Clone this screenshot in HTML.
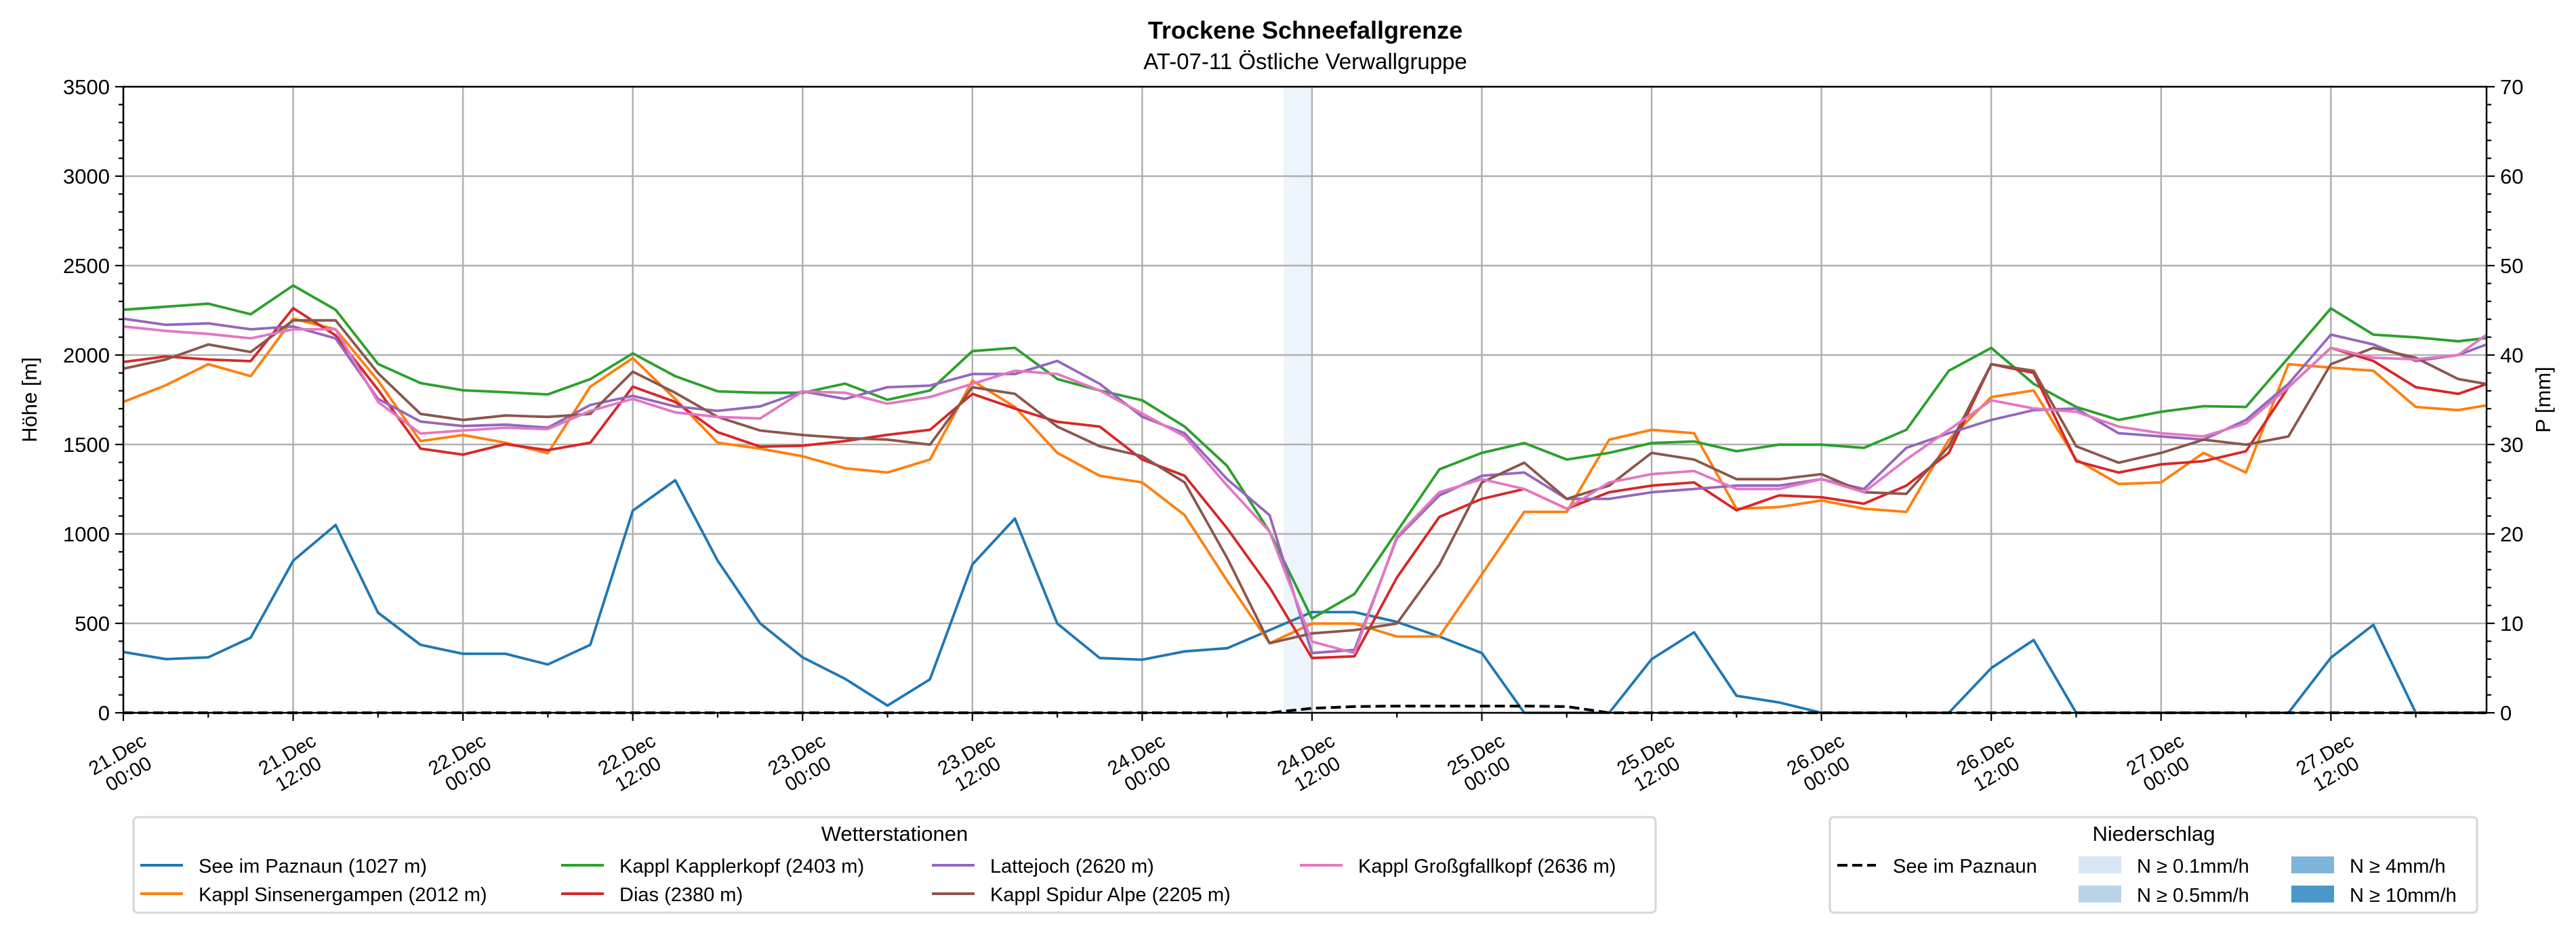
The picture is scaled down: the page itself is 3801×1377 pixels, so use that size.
<!DOCTYPE html>
<html><head><meta charset="utf-8"><title>Trockene Schneefallgrenze</title>
<style>
html,body{margin:0;padding:0;background:#fff;}
svg{display:block;font-family:"Liberation Sans",sans-serif;}
</style></head>
<body>
<svg id="chart" width="3801" height="1377" viewBox="0 0 3801 1377" xmlns="http://www.w3.org/2000/svg">
<rect x="0" y="0" width="3801" height="1377" fill="#fff"/>
<text x="1926" y="57" text-anchor="middle" font-size="36" font-weight="bold">Trockene Schneefallgrenze</text>
<text x="1926" y="102" text-anchor="middle" font-size="33">AT-07-11 Östliche Verwallgruppe</text>
<g id="plot"></g>
<text transform="translate(54,590) rotate(-90)" text-anchor="middle" font-size="31">Höhe [m]</text>
<text transform="translate(3763,590) rotate(-90)" text-anchor="middle" font-size="31">P [mm]</text>

<g>
<rect x="197" y="1206" width="2246" height="141" rx="6" fill="#fff" stroke="#d6d6d6" stroke-width="3"/>
<text x="1320" y="1241" text-anchor="middle" font-size="31">Wetterstationen</text>
<g id="legendEntries"></g>
</g>

<g>
<rect x="2700" y="1206" width="955" height="141" rx="6" fill="#fff" stroke="#d6d6d6" stroke-width="3"/>
<text x="3178" y="1241" text-anchor="middle" font-size="31">Niederschlag</text>
<line x1="2711" y1="1277" x2="2768" y2="1277" stroke="#000" stroke-width="4" stroke-dasharray="15,7"/>
<text x="2793" y="1288" font-size="29">See im Paznaun</text>
<rect x="3067" y="1264" width="63" height="25" fill="#d6e6f4"/>
<text x="3153" y="1288" font-size="29">N ≥ 0.1mm/h</text>
<rect x="3067" y="1307" width="63" height="25" fill="#b7d4ea"/>
<text x="3153" y="1331" font-size="29">N ≥ 0.5mm/h</text>
<rect x="3381" y="1264" width="63" height="25" fill="#7fb5da"/>
<text x="3467" y="1288" font-size="29">N ≥ 4mm/h</text>
<rect x="3381" y="1307" width="63" height="25" fill="#4a98c9"/>
<text x="3467" y="1331" font-size="29">N ≥ 10mm/h</text>
</g>
</svg>
<script>
// ---- data ----
const stationNames = ["See im Paznaun (1027 m)","Kappl Sinsenergampen (2012 m)","Kappl Kapplerkopf (2403 m)","Dias (2380 m)","Lattejoch (2620 m)","Kappl Spidur Alpe (2205 m)","Kappl Großgfallkopf (2636 m)"];
const hours = [0,3,6,9,12,15,18,21,24,27,30,33,36,39,42,45,48,51,54,57,60,63,66,69,72,75,78,81,84,87,90,93,96,99,102,105,108,111,114,117,120,123,126,129,132,135,138,141,144,147,150,153,156,159,162,165,167];
const seeValues = [340,300,310,420,850,1050,560,380,330,330,270,380,1130,1300,850,500,310,190,40,187,829,1086,499,306,297,343,361,462,563,563,508,426,334,0,0,0,300,450,95,58,0,0,0,0,250,407,0,0,0,0,0,0,308,492,0,0,0];
const sinsenValues = [1738,1831,1949,1882,2203,2144,1857,1519,1553,1510,1451,1823,1983,1755,1510,1477,1434,1367,1343,1416,1857,1710,1453,1325,1288,1105,738,389,499,499,426,426,774,1123,1123,1527,1582,1563,1141,1150,1187,1141,1123,1527,1765,1802,1416,1279,1288,1453,1343,1949,1930,1912,1710,1692,1719];
const kapplerValues = [2253,2270,2287,2228,2389,2253,1950,1843,1803,1792,1780,1865,2009,1882,1797,1789,1789,1840,1750,1802,2022,2040,1866,1802,1747,1600,1380,1013,527,664,1013,1361,1453,1508,1416,1453,1508,1517,1462,1499,1499,1481,1582,1912,2040,1839,1710,1637,1683,1714,1710,1985,2261,2114,2099,2077,2095];
const diasValues = [1961,1992,1975,1966,2262,2110,1806,1477,1443,1502,1468,1510,1823,1738,1569,1488,1493,1519,1554,1582,1783,1701,1627,1600,1416,1325,1031,701,306,316,756,1095,1196,1251,1141,1233,1270,1288,1132,1215,1205,1169,1270,1453,1949,1900,1407,1343,1389,1407,1462,1820,2040,1967,1820,1783,1838];
const latteValues = [2203,2169,2177,2144,2160,2093,1755,1628,1603,1611,1594,1721,1772,1713,1688,1713,1797,1755,1820,1829,1894,1894,1967,1839,1655,1563,1306,1105,334,352,976,1215,1325,1343,1196,1196,1233,1251,1270,1270,1306,1251,1481,1563,1637,1692,1701,1563,1545,1527,1637,1839,2114,2059,1967,2000,2059];
const spidurValues = [1924,1975,2059,2017,2194,2194,1899,1671,1637,1662,1654,1671,1907,1789,1654,1578,1553,1536,1527,1499,1820,1783,1600,1490,1435,1288,866,389,444,462,499,829,1288,1398,1196,1270,1453,1416,1306,1306,1334,1233,1224,1490,1949,1912,1490,1398,1453,1527,1499,1545,1949,2040,1985,1866,1838];
const grossValues = [2160,2135,2118,2093,2144,2144,1738,1561,1578,1594,1586,1688,1755,1679,1654,1645,1797,1789,1728,1765,1839,1912,1894,1802,1673,1545,1270,1013,398,334,985,1233,1306,1251,1141,1288,1334,1352,1251,1251,1306,1233,1416,1582,1747,1701,1683,1600,1563,1545,1618,1820,2040,1985,1976,2000,2114];
const precipValues = [0,0,0,0,0,0,0,0,0,0,0,0,0,0,0,0,0,0,0,0,0,0,0,0,0,0,0,0,0.5,0.7,0.75,0.75,0.75,0.75,0.7,0,0,0,0,0,0,0,0,0,0,0,0,0,0,0,0,0,0,0,0,0,0];
const shadeStart = [82];
const shadeEnd = [84];
const yTicks = [0,500,1000,1500,2000,2500,3000,3500];
const y2Ticks = [0,10,20,30,40,50,60,70];
const xTickHours = [0,12,24,36,48,60,72,84,96,108,120,132,144,156];
const xTickDates = ["21.Dec","21.Dec","22.Dec","22.Dec","23.Dec","23.Dec","24.Dec","24.Dec","25.Dec","25.Dec","26.Dec","26.Dec","27.Dec","27.Dec"];
const xTickTimes = ["00:00","12:00","00:00","12:00","00:00","12:00","00:00","12:00","00:00","12:00","00:00","12:00","00:00","12:00"];

// ---- layout ----
const L=182, R=3669, T=128, B=1052, HMAX=167, YMAX=3500, PMAX=70;
const xs = h => L + (R-L)*h/HMAX;
const ys = v => B - (B-T)*v/YMAX;
const ps = p => B - (B-T)*p/PMAX;
const NS="http://www.w3.org/2000/svg";
const plot=document.getElementById('plot');
function mk(tag, attrs, parent){const e=document.createElementNS(NS,tag);for(const k in attrs)e.setAttribute(k,attrs[k]);(parent||plot).appendChild(e);return e;}

// shading
shadeStart.forEach((s,i)=>{
  const r=mk('rect',{x:xs(s),y:T,width:xs(shadeEnd[i])-xs(s),height:B-T,fill:'#deebf7','fill-opacity':0.55});
  
  
});
// grid
yTicks.forEach(v=>{
  const g=mk('line',{x1:L,x2:R,y1:ys(v),y2:ys(v),stroke:'#b0b0b0','stroke-width':2.5});
  
  
});
xTickHours.forEach(h=>{
  const g=mk('line',{x1:xs(h),x2:xs(h),y1:T,y2:B,stroke:'#b0b0b0','stroke-width':2.5});
  
  
});
// series
const seriesList=[[seeValues,'#1f77b4','see-im-paznaun-line'],[sinsenValues,'#ff7f0e','sinsenergampen-line'],[kapplerValues,'#2ca02c','kapplerkopf-line'],[diasValues,'#d62728','dias-line'],[latteValues,'#9467bd','lattejoch-line'],[spidurValues,'#8c564b','spidur-alpe-line'],[grossValues,'#e377c2','grossgfallkopf-line']];
seriesList.forEach(s=>{
  const d=s[0].map((v,i)=>(i?'L':'M')+xs(hours[i]).toFixed(1)+','+ys(v).toFixed(1)).join(' ');
  const p=mk('path',{d:d,fill:'none',stroke:s[1],'stroke-width':3.8,'stroke-linejoin':'round'});
  
  
});
// precip
{
  const d=precipValues.map((v,i)=>(i?'L':'M')+xs(hours[i]).toFixed(1)+','+ps(v).toFixed(1)).join(' ');
  const p=mk('path',{d:d,fill:'none',stroke:'#000','stroke-width':4,'stroke-dasharray':'15,7'});
  
  
}
// frame
{
  const f=mk('rect',{x:L,y:T,width:R-L,height:B-T,fill:'none',stroke:'#000','stroke-width':2.5});
  
  
}
// y ticks left & right
for(let v=0;v<=YMAX;v+=100){
  const major=v%500===0, len=major?12:7;
  const t=mk('line',{x1:L-len,x2:L,y1:ys(v),y2:ys(v),stroke:'#000','stroke-width':2.2});
  
  
  const t2=mk('line',{x1:R,x2:R+len,y1:ys(v),y2:ys(v),stroke:'#000','stroke-width':2.2});
  
  
}
yTicks.forEach(v=>{
  const tx=mk('text',{x:L-20,y:ys(v)+11,'text-anchor':'end','font-size':31});
  tx.textContent=v;
  
  
});
y2Ticks.forEach(p=>{
  const tx=mk('text',{x:R+20,y:ps(p)+11,'text-anchor':'start','font-size':31});
  tx.textContent=p;
  
  
});
// x ticks
for(let h=0;h<=HMAX;h+=6){
  const major=h%12===0, len=major?12:7;
  const t=mk('line',{x1:xs(h),x2:xs(h),y1:B,y2:B+len,stroke:'#000','stroke-width':2.2});
  
  
}
xTickHours.forEach((h,i)=>{
  const tx=mk('text',{transform:'translate('+(xs(h)-4)+',1122) rotate(-30)','text-anchor':'middle','font-size':29});
  
  
  const a=mk('tspan',{x:0,dy:0},tx); a.textContent=xTickDates[i];
  const b=mk('tspan',{x:0,dy:33},tx); b.textContent=xTickTimes[i];
});
// station legend
const lg=document.getElementById('legendEntries');
const colX=[207,828,1375,1918], rowY=[1277,1319];
seriesList.forEach((s,i)=>{
  const c=Math.floor(i/2), r=i%2, x=colX[c], y=rowY[r];
  const ln=mk('line',{x1:x,x2:x+63,y1:y,y2:y,stroke:s[1],'stroke-width':4},lg);
  
  
  const tx=mk('text',{x:x+86,y:y+11,'font-size':29},lg);
  tx.textContent=stationNames[i];
  
  
});
</script>
</body></html>
